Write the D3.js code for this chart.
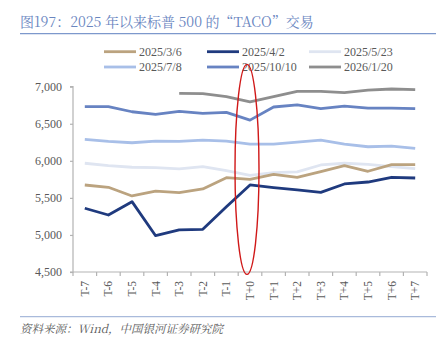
<!DOCTYPE html>
<html><head><meta charset="utf-8">
<script src="https://cdn.jsdelivr.net/npm/d3@7"></script>
<style>
html,body{margin:0;padding:0;background:#fff;}
svg{display:block;}
</style></head>
<body>
<svg id="chart" width="443" height="347"></svg>
<script>
const categories = ["T-7","T-6","T-5","T-4","T-3","T-2","T-1","T+0","T+1","T+2","T+3","T+4","T+5","T+6","T+7"];
const seriesNames = ["2025/3/6","2025/4/2","2025/5/23","2025/7/8","2025/10/10","2026/1/20"];
const seriesColors = ["#bba37f","#1f3a7e","#dfe5f1","#a8bfe8","#6783c2","#8e8e8e"];
const s20250306 = [5674,5643,5526,5590,5571,5620,5773,5751,5818,5778,5854,5935,5859,5948,5948];
const s20250402 = [5360,5269,5449,4990,5067,5076,5381,5674,5638,5607,5575,5688,5714,5778,5768];
const s20250523 = [5967,5935,5913,5908,5890,5921,5867,5805,5840,5850,5944,5967,5953,5921,5894];
const s20250708 = [6289,6262,6244,6266,6262,6280,6266,6226,6226,6253,6280,6226,6190,6199,6168];
const s20251010 = [6730,6730,6662,6627,6667,6640,6653,6549,6726,6755,6703,6739,6712,6712,6703];
const s20260120 = [null,null,null,null,6911,6906,6865,6794,6865,6937,6937,6919,6955,6969,6960];
const yTicks = [4500,5000,5500,6000,6500,7000];
const title = "图197：2025 年以来标普 500 的“TACO”交易";
const source = "资料来源：Wind，中国银河证券研究院";

const allSeries = [s20250306,s20250402,s20250523,s20250708,s20251010,s20260120];
// draw order: light ones first so dark on top similar to reference
const drawOrder = [2,3,4,5,0,1];

const svg = d3.select("#chart");
const serif = "'Liberation Serif','DejaVu Serif','Noto Sans CJK SC',serif";
const cjkSerif = "'Noto Serif CJK SC','Liberation Serif','Noto Sans CJK SC',serif";

// title
svg.append("text").attr("x",20).attr("y",27).attr("fill","#6a86bf")
  .attr("font-family",cjkSerif).attr("font-size",14).text(title);
svg.append("line").attr("x1",20).attr("x2",436).attr("y1",33.7).attr("y2",33.7)
  .attr("stroke","#7d98cc").attr("stroke-width",1.3);

const x = d3.scaleBand().domain(categories).range([73,427]);
const y = d3.scaleLinear().domain([4500,7000]).range([272,86.7]);

// y axis
const yAxis = d3.axisLeft(y).tickValues(yTicks).tickSize(3).tickPadding(8).tickFormat(d3.format(","));
const gy = svg.append("g").attr("transform","translate(73,0)").call(yAxis);
gy.select(".domain").attr("stroke","#b3b3b3").attr("stroke-width",1.2).attr("d","M-3,86.7H0V272H-3");
gy.selectAll(".tick line").attr("stroke","#b3b3b3").attr("stroke-width",1.2);
gy.selectAll(".tick text").attr("fill","#595959").attr("font-family",serif).attr("font-size",12);

// x axis with ticks between categories
const gx = svg.append("g").attr("transform","translate(0,272)");
gx.append("line").attr("x1",73).attr("x2",427).attr("y1",0).attr("y2",0).attr("stroke","#b3b3b3").attr("stroke-width",1.2);
const bounds = categories.map(c=>x(c)).concat([x(categories[categories.length-1])+x.bandwidth()]);
gx.selectAll("line.tk").data(bounds).enter().append("line").attr("class","tk")
  .attr("x1",d=>d).attr("x2",d=>d).attr("y1",0).attr("y2",4).attr("stroke","#b3b3b3").attr("stroke-width",1.2);
gx.selectAll("text").data(categories).enter().append("text")
  .attr("transform",d=>`translate(${x(d)+x.bandwidth()/2+4},9) rotate(-90)`)
  .attr("text-anchor","end").attr("fill","#595959").attr("font-family",serif).attr("font-size",11.5)
  .text(d=>d);

// lines
const line = d3.line().defined(d=>d!=null)
  .x((d,i)=>x(categories[i])+x.bandwidth()/2).y(d=>y(d));
drawOrder.forEach(k=>{
  svg.append("path").datum(allSeries[k]).attr("d",line).attr("fill","none")
    .attr("stroke",seriesColors[k]).attr("stroke-width",2.8).attr("stroke-linejoin","round");
});

// legend
const legX = [104,207,309], legY = [51.7,67];
seriesNames.forEach((n,i)=>{
  const cx = legX[i%3], cy = legY[Math.floor(i/3)];
  svg.append("line").attr("x1",cx).attr("x2",cx+32).attr("y1",cy).attr("y2",cy)
    .attr("stroke",seriesColors[i]).attr("stroke-width",2.8);
  svg.append("text").attr("x",cx+35).attr("y",cy+4.2).attr("fill","#595959")
    .attr("font-family",serif).attr("font-size",12).text(n);
});

// red ellipse highlight
svg.append("ellipse").attr("cx",x("T+0")+x.bandwidth()/2-3).attr("cy",(y(7000)+y(4500))/2+(-10))
  .attr("rx",12).attr("ry",105).attr("fill","none").attr("stroke","#d01818").attr("stroke-width",1.4);

// bottom
svg.append("line").attr("x1",20).attr("x2",436).attr("y1",316.7).attr("y2",316.7)
  .attr("stroke","#a9badb").attr("stroke-width",1.3);
svg.append("text").attr("x",20).attr("y",333).attr("fill","#595959").attr("font-style","italic")
  .attr("font-family",cjkSerif).attr("font-size",11.5).text(source);
</script>
</body></html>
